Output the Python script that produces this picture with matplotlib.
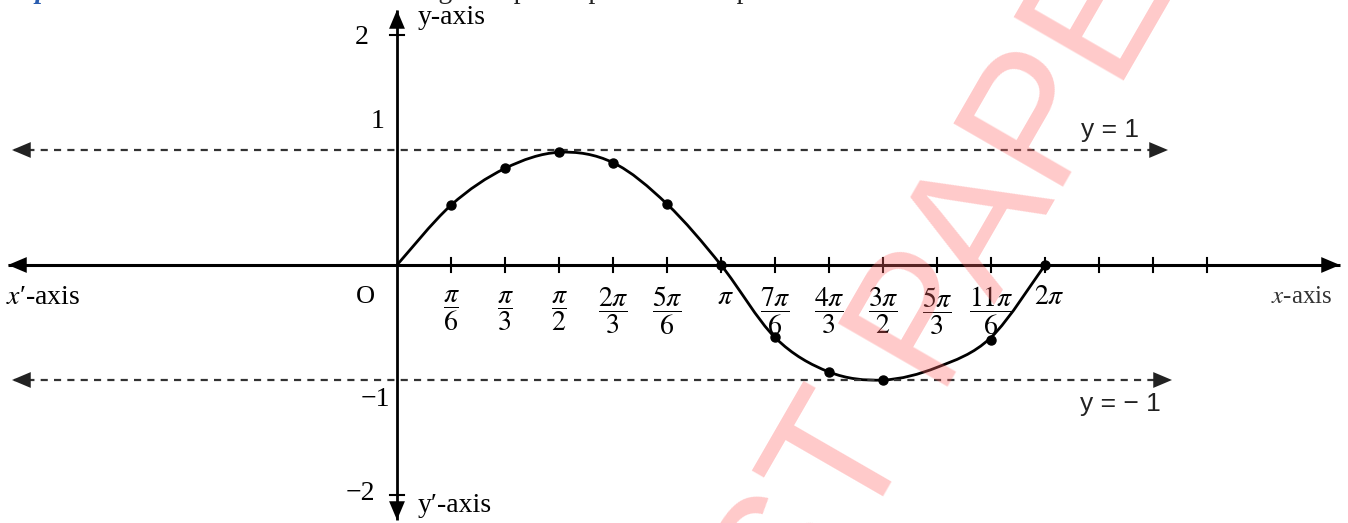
#!/usr/bin/env python3
import numpy as np
import matplotlib
matplotlib.use('Agg')
import matplotlib.pyplot as plt
from matplotlib.path import Path
from matplotlib.patches import PathPatch

# curve of y = sin x (multiples of pi/6)
CURVE_K = [0, 1, 2, 3, 4, 5, 6, 7, 8, 9, 10, 11, 12]
CURVE_Y = [0, 0.52, 0.84, 0.98, 0.89, 0.53, 0, -0.63, -0.93, -1.0, -0.89, -0.63, 0]

# plotted dots
DOT_K = [1, 2, 3, 4, 5, 6, 7, 8, 9, 11, 12]
DOT_Y = [0.52, 0.84, 0.98, 0.89, 0.53, 0, -0.63, -0.93, -1.0, -0.65, 0]

# x tick labels (numerator, denominator) at k*pi/6
TICK_K = [1, 2, 3, 4, 5, 6, 7, 8, 9, 10, 11, 12]
TICK_LABELS = [
    (r'\pi', '6'), (r'\pi', '3'), (r'\pi', '2'), (r'2\pi', '3'), (r'5\pi', '6'),
    (r'\pi', None), (r'7\pi', '6'), (r'4\pi', '3'), (r'3\pi', '2'), (r'5\pi', '3'),
    (r'11\pi', '6'), (r'2\pi', None),
]
EXTRA_TICK_K = [13, 14, 15]

Y_TICKS = [2, 1, -1, -2]
Y_LABELS = ['2', '1', '\u22121', '\u22122']

matplotlib.rc('font', family=['Liberation Serif', 'DejaVu Serif'], size=19)
matplotlib.rc('mathtext', fontset='stix')

W, H = 1348, 523
PX = 54 / (np.pi / 6)   # pixels per radian
PY = 115                # pixels per unit
OX, OY = 397, 265       # origin in pixels

fig = plt.figure(figsize=(W / 100, H / 100), dpi=100)
ax = fig.add_axes([0, 0, 1, 1])
ax.set_xlim(-OX / PX, (W - OX) / PX)
ax.set_ylim(-(H - OY) / PY, OY / PY)
ax.axis('off')

def px(p):
    return (p - OX) / PX

def py(p):
    return (OY - p) / PY

def head(tip, tail, color='black'):
    ax.annotate('', xy=tip, xytext=tail,
                arrowprops=dict(arrowstyle='-|>,head_length=0.9,head_width=0.38',
                                mutation_scale=15, color=color, lw=0,
                                shrinkA=0, shrinkB=0))

# axes lines with arrows
ax.plot([px(8), px(1340)], [0, 0], color='black', lw=2.2, solid_capstyle='butt')
head((px(8), 0), (px(30), 0))
head((px(1340), 0), (px(1318), 0))
ax.plot([0, 0], [py(10), py(520)], color='black', lw=2.0, solid_capstyle='butt')
head((0, py(10)), (0, py(30)))
head((0, py(520)), (0, py(500)))

# x ticks
for k in TICK_K + EXTRA_TICK_K:
    x = k * np.pi / 6
    ax.plot([x, x], [py(258), py(272)], color='black', lw=1.5)
# y ticks at +-2
for v in [2, -2]:
    ax.plot([px(390), px(404)], [v, v], color='black', lw=1.5)

# dashed lines y = 1 and y = -1
for v, right in [(1, 1168), (-1, 1172)]:
    ax.plot([px(14), px(right - 10)], [v, v], color='#333333', lw=1.6,
            linestyle=(0, (3.2, 2.8)))
    head((px(12), v), (px(30), v), '#222222')
    head((px(right), v), (px(right - 18), v), '#222222')

# smooth curve through read points (Catmull-Rom as Bezier)
xs = np.array(CURVE_K) * np.pi / 6
ys = np.array(CURVE_Y)
pts = np.column_stack([xs, ys])
ext = np.vstack([pts[0], pts, pts[-1]])
verts = [tuple(pts[0])]
codes = [Path.MOVETO]
for i in range(len(pts) - 1):
    p0, p1, p2, p3 = ext[i], ext[i + 1], ext[i + 2], ext[i + 3]
    c1 = p1 + (p2 - p0) / 6
    c2 = p2 - (p3 - p1) / 6
    verts += [tuple(c1), tuple(c2), tuple(p2)]
    codes += [Path.CURVE4] * 3
ax.add_patch(PathPatch(Path(verts, codes), fill=False, lw=2.0, edgecolor='black'))

ax.plot(np.array(DOT_K) * np.pi / 6, DOT_Y, 'o', color='black', ms=6.5, zorder=5)

# tick labels
for k, (num, den) in zip(TICK_K, TICK_LABELS):
    x = k * np.pi / 6
    if den is None:
        ax.text(x + 0.04, py(297), '$%s$' % num, ha='center', va='center', fontsize=20)
    else:
        ax.text(x, py(311), r'$\dfrac{%s}{%s}$' % (num, den), ha='center', va='center',
                fontsize=20)

# y labels
for v, lab in zip(Y_TICKS, Y_LABELS):
    xp = {2: 362, 1: 378, -1: 375, -2: 360}[v]
    yp = {2: 37, 1: 122, -1: 400, -2: 493}[v]
    ax.text(px(xp), py(yp), lab, ha='center', va='center', fontsize=20)

ax.text(px(365), py(297), 'O', ha='center', va='center', fontsize=19)
ax.text(px(418), py(18), 'y-axis', ha='left', va='center', fontsize=20)
ax.text(px(418), py(505), 'y\u2032-axis', ha='left', va='center', fontsize=20)
ax.text(px(6), py(297), r'$x$' + '\u2032-axis', ha='left', va='center', fontsize=20)
ax.text(px(1332), py(297), r'$x$' + '-axis', ha='right', va='center', fontsize=18,
        color='#333333')
ax.text(px(1110), py(130), 'y = 1', ha='center', va='center', fontsize=19,
        family='Liberation Sans', color='#222222')
ax.text(px(1120), py(404), 'y = \u2212 1', ha='center', va='center', fontsize=19,
        family='Liberation Sans', color='#222222')

# cut-off heading at the top
ax.text(px(0), py(-8), 'Step 3:', ha='left', va='center', fontsize=20,
        color='#2a5db0', fontweight='bold', style='italic')
ax.text(px(100), py(-8), 'Sketch the smooth curve through the points plotted in Step 2.',
        ha='left', va='center', fontsize=20, color='#222222')

# watermark
ax.text(px(922), py(335), 'TEST PAPER', rotation=60, rotation_mode='anchor',
        ha='center', va='center', fontsize=132, family='Liberation Sans',
        color='#ff6666', alpha=0.35, zorder=10)

fig.savefig('out.png', dpi=100)
